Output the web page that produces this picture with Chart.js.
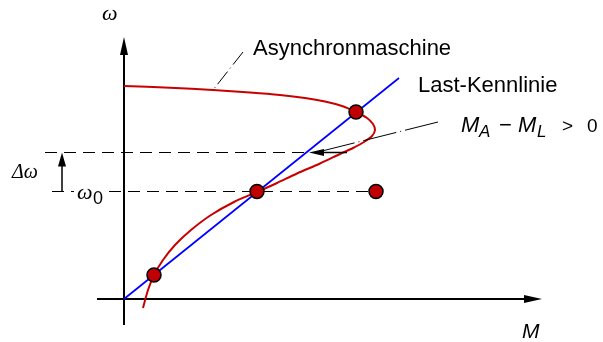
<!DOCTYPE html>
<html><head><meta charset="utf-8">
<script src="https://cdn.jsdelivr.net/npm/chart.js@4.4.1/dist/chart.umd.min.js"></script>
<style>html,body{margin:0;padding:0;background:#fff;}#wrap{width:603px;height:342px;}</style>
</head><body><div id="wrap"><canvas id="c" width="603" height="342"></canvas></div>
<script>
// Torque M (x) vs angular speed omega (y), arbitrary units
const curveM = [0.00, 0.46, 0.89, 1.26, 1.56, 1.81, 2.01, 2.18, 2.32, 2.43, 2.49, 2.51, 2.48, 2.40, 2.29, 2.16, 1.96, 1.73, 1.53, 1.33, 1.10, 0.87, 0.67, 0.51, 0.39, 0.30, 0.24, 0.19];
const curveW = [2.13, 2.112, 2.09, 2.065, 2.04, 2.01, 1.975, 1.93, 1.87, 1.81, 1.75, 1.69, 1.63, 1.57, 1.51, 1.45, 1.355, 1.255, 1.16, 1.07, 0.97, 0.84, 0.69, 0.54, 0.39, 0.24, 0.09, -0.09];
const loadM = [0, 2.75];
const loadW = [0, 2.21];
const pointM = [0.30, 1.33, 2.32, 2.52];
const pointW = [0.24, 1.075, 1.87, 1.075];
const omega0 = 1.075;
const omega1 = 1.465;
const labelTexts = ['Asynchronmaschine', 'Last-Kennlinie'];
const axisTexts = ['ω', 'M'];

const zip = (a, b) => a.map((v, i) => ({x: v, y: b[i]}));

const deco = {
  id: 'deco',
  beforeDatasetsDraw(chart) {
    const ctx = chart.ctx, xs = chart.scales.x, ys = chart.scales.y;
    const X = v => xs.getPixelForValue(v), Y = v => ys.getPixelForValue(v);
    ctx.save();
    ctx.strokeStyle = '#000'; ctx.fillStyle = '#000'; ctx.lineWidth = 2;
    arrow(ctx, X(0), Y(-0.26), X(0), Y(2.62), 18, 4);
    arrow(ctx, X(-0.27), Y(0), X(4.18), Y(0), 18, 4);
    ctx.restore();
  },
  afterDatasetsDraw(chart) {
    const ctx = chart.ctx, xs = chart.scales.x, ys = chart.scales.y;
    const X = v => xs.getPixelForValue(v), Y = v => ys.getPixelForValue(v);
    ctx.save();
    ctx.fillStyle = '#000'; ctx.strokeStyle = '#000';
    // delta omega arrow
    ctx.lineWidth = 1.5;
    arrow(ctx, X(-0.62), Y(omega0), X(-0.62), Y(omega1), 14, 4);
    // arrow M_A - M_L
    ctx.lineWidth = 1.5;
    arrow(ctx, X(2.23), Y(omega1), X(1.85), Y(omega1), 15, 3.5);
    // leaders
    ctx.lineWidth = 1;
    ctx.setLineDash([16, 4, 1, 4]);
    ctx.beginPath(); ctx.moveTo(X(1.19), Y(2.47)); ctx.lineTo(X(0.89), Y(2.09)); ctx.stroke();
    ctx.setLineDash([34, 4, 1, 4]);
    ctx.beginPath(); ctx.moveTo(X(3.14), Y(1.77)); ctx.lineTo(X(1.98), Y(1.48)); ctx.stroke();
    ctx.setLineDash([]);
    // white box for omega0 label
    ctx.fillStyle = '#fff';
    ctx.fillRect(X(-0.50), Y(1.16), X(-0.16) - X(-0.50), Y(0.93) - Y(1.16));
    ctx.fillStyle = '#000';
    ctx.textBaseline = 'alphabetic'; ctx.textAlign = 'left';
    const sans = '"Liberation Sans", Arial, sans-serif';
    const serif = '"Liberation Serif", "DejaVu Serif", serif';
    ctx.font = '22px ' + sans;
    ctx.fillText(labelTexts[0], X(1.29), Y(2.44));
    ctx.fillText(labelTexts[1], X(2.94), Y(2.07));
    // axis labels
    ctx.font = 'italic 22px ' + serif;
    ctx.fillText(axisTexts[0], X(-0.22), Y(2.79));
    ctx.font = 'italic 21px ' + sans;
    ctx.fillText(axisTexts[1], X(3.98), Y(-0.39));
    // delta omega
    ctx.font = 'italic 20px ' + serif;
    ctx.fillText('Δω', X(-1.12), Y(1.21));
    // omega0
    ctx.font = 'italic 22px ' + serif;
    ctx.fillText('ω', X(-0.47), Y(1.00));
    ctx.font = '18px ' + sans;
    ctx.fillText('0', X(-0.31), Y(0.95));
    // M_A - M_L > 0
    const base = Y(1.67), sub = Y(1.62);
    ctx.font = 'italic 22px ' + sans;
    ctx.fillText('M', X(3.37), base);
    ctx.font = 'italic 17px ' + sans;
    ctx.fillText('A', X(3.55), sub);
    ctx.font = '22px ' + sans;
    ctx.fillText('−', X(3.75), base);
    ctx.font = 'italic 22px ' + sans;
    ctx.fillText('M', X(3.94), base);
    ctx.font = 'italic 17px ' + sans;
    ctx.fillText('L', X(4.13), sub);
    ctx.font = '19px ' + sans;
    ctx.fillText('>', X(4.38), base);
    ctx.fillText('0', X(4.63), base);
    ctx.restore();
  }
};

function arrow(ctx, x1, y1, x2, y2, len, hw) {
  const a = Math.atan2(y2 - y1, x2 - x1);
  const bx = x2 - len * Math.cos(a), by = y2 - len * Math.sin(a);
  ctx.beginPath(); ctx.moveTo(x1, y1); ctx.lineTo(bx + Math.cos(a) * 2, by + Math.sin(a) * 2); ctx.stroke();
  ctx.beginPath();
  ctx.moveTo(x2, y2);
  ctx.lineTo(bx + hw * Math.sin(a), by - hw * Math.cos(a));
  ctx.lineTo(bx - hw * Math.sin(a), by + hw * Math.cos(a));
  ctx.closePath(); ctx.fill();
}

new Chart(document.getElementById('c'), {
  type: 'scatter',
  data: {
    datasets: [
      {data: zip(pointM, pointW), pointRadius: 7, pointHoverRadius: 7, pointBackgroundColor: '#c00000', pointBorderColor: '#000', pointBorderWidth: 1.5, showLine: false},
      {data: zip(curveM, curveW), showLine: true, borderColor: '#c80000', borderWidth: 2, pointRadius: 0, tension: 0.3, fill: false},
      {data: zip(loadM, loadW), showLine: true, borderColor: '#0000ff', borderWidth: 1.7, pointRadius: 0, fill: false},
      {data: [{x: -0.79, y: omega1}, {x: 1.85, y: omega1}], showLine: true, borderColor: '#000', borderWidth: 1, borderDash: [12, 7], pointRadius: 0},
      {data: [{x: -0.72, y: omega0}, {x: 2.52, y: omega0}], showLine: true, borderColor: '#000', borderWidth: 1, borderDash: [12, 7], pointRadius: 0}
    ]
  },
  options: {
    responsive: false, animation: false, maintainAspectRatio: false,
    layout: {padding: 0, autoPadding: false},
    plugins: {legend: {display: false}, tooltip: {enabled: false}},
    scales: {
      x: {type: 'linear', min: -1.24, max: 4.79, display: false},
      y: {type: 'linear', min: -0.43, max: 2.99, display: false}
    }
  },
  plugins: [deco]
});
</script></body></html>
